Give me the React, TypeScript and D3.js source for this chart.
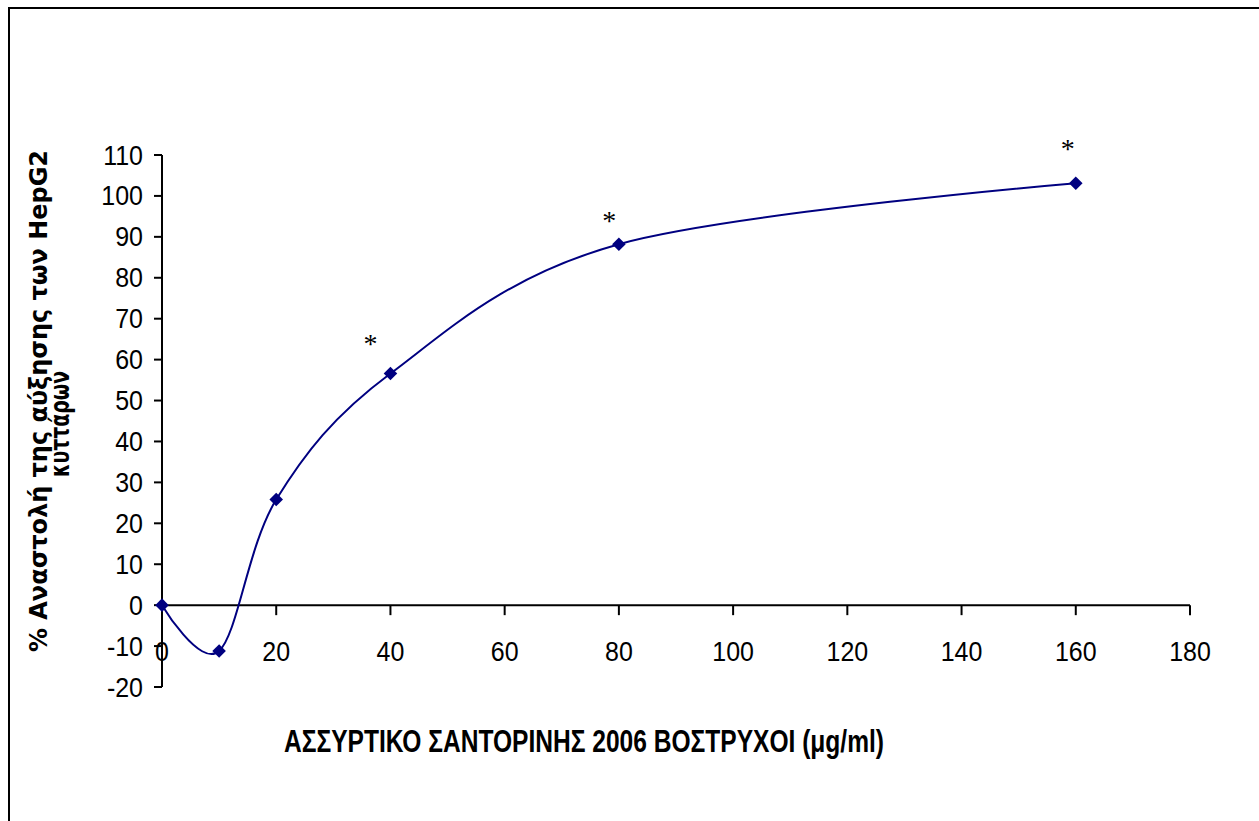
import React from "react";
import * as d3 from "d3";

const doses = [0, 10, 20, 40, 80, 160];
const inhibition = [0, -11.2, 25.8, 56.6, 88.2, 103.1];
const starX = [36.5, 78.3, 158.6];
const starY = [65, 95, 112.6];
const yTicks = [-20, -10, 0, 10, 20, 30, 40, 50, 60, 70, 80, 90, 100, 110];
const xTicks = [0, 20, 40, 60, 80, 100, 120, 140, 160, 180];
const xTitle = "ΑΣΣΥΡΤΙΚΟ ΣΑΝΤΟΡΙΝΗΣ 2006 ΒΟΣΤΡΥΧΟΙ  (μg/ml)";
const yTitle1 = "% Αναστολή της αύξησης των HepG2";
const yTitle2 = "κυττάρων";

const W = 1259;
const H = 821;

export default function App() {
  const x = d3.scaleLinear().domain([0, 180]).range([162, 1190]);
  const y = d3.scaleLinear().domain([-20, 110]).range([687, 155]);
  const pts = doses.map((d, i) => [x(d), y(inhibition[i])] as [number, number]);
  const line = d3.line().curve(d3.curveCatmullRom.alpha(0))(pts) || "";
  const diamond = d3.symbol(d3.symbolSquare, 92)() || "";
  const tickFont = "'Liberation Sans', Arial, sans-serif";
  return (
    <svg
      width={W}
      height={H}
      style={{ position: "absolute", left: 0, top: 0, display: "block", background: "#fff" }}
    >
      <rect x={0} y={0} width={W} height={H} fill="#fff" />
      <rect x={9} y={8} width={W + 20} height={H + 20} fill="none" stroke="#000" strokeWidth={2} />
      {/* y axis */}
      <line x1={x(0)} x2={x(0)} y1={y(110)} y2={y(-20)} stroke="#000" strokeWidth={2} />
      {yTicks.map((t) => (
        <g key={"y" + t}>
          <line x1={x(0) - 8} x2={x(0)} y1={y(t)} y2={y(t)} stroke="#000" strokeWidth={2} />
          <text
            transform={`translate(143,${y(t) + 9.5}) scale(1,1.1)`}
            textAnchor="end"
            fontFamily={tickFont}
            fontSize={25}
            fill="#000"
          >
            {t}
          </text>
        </g>
      ))}
      {/* x axis */}
      <line x1={x(0)} x2={x(180)} y1={y(0)} y2={y(0)} stroke="#000" strokeWidth={2} />
      {xTicks.map((t) => (
        <g key={"x" + t}>
          <line x1={x(t)} x2={x(t)} y1={y(0)} y2={y(0) + 10} stroke="#000" strokeWidth={2} />
          <text
            transform={`translate(${x(t)},${y(0) + 56}) scale(1,1.1)`}
            textAnchor="middle"
            fontFamily={tickFont}
            fontSize={25}
            fill="#000"
          >
            {t}
          </text>
        </g>
      ))}
      {/* curve */}
      <path d={line} fill="none" stroke="#000080" strokeWidth={2} />
      {pts.map((p, i) => (
        <path
          key={"m" + i}
          d={diamond}
          transform={`translate(${p[0]},${p[1]}) rotate(45)`}
          fill="#000080"
        />
      ))}
      {starX.map((s, i) => (
        <text
          key={"s" + i}
          x={x(s)}
          y={y(starY[i]) + 14}
          textAnchor="middle"
          fontFamily="'Liberation Serif', 'Times New Roman', serif"
          fontSize={28}
          fill="#000"
        >
          *
        </text>
      ))}
      {/* x title */}
      <text
        x={284}
        y={752}
        fontFamily={tickFont}
        fontWeight="bold"
        fontSize={31}
        textLength={600}
        lengthAdjust="spacingAndGlyphs"
        fill="#000"
      >
        {xTitle}
      </text>
      {/* y title */}
      <text
        transform={`translate(47,401) rotate(-90)`}
        textAnchor="middle"
        fontFamily="'DejaVu Sans', Verdana, sans-serif"
        fontWeight="bold"
        fontSize={24}
        textLength={502}
        lengthAdjust="spacingAndGlyphs"
        fill="#000"
      >
        {yTitle1}
      </text>
      <text
        transform={`translate(69,424) rotate(-90)`}
        textAnchor="middle"
        fontFamily="'DejaVu Sans', Verdana, sans-serif"
        fontWeight="bold"
        fontSize={26}
        textLength={106}
        lengthAdjust="spacingAndGlyphs"
        fill="#000"
      >
        {yTitle2}
      </text>
    </svg>
  );
}
